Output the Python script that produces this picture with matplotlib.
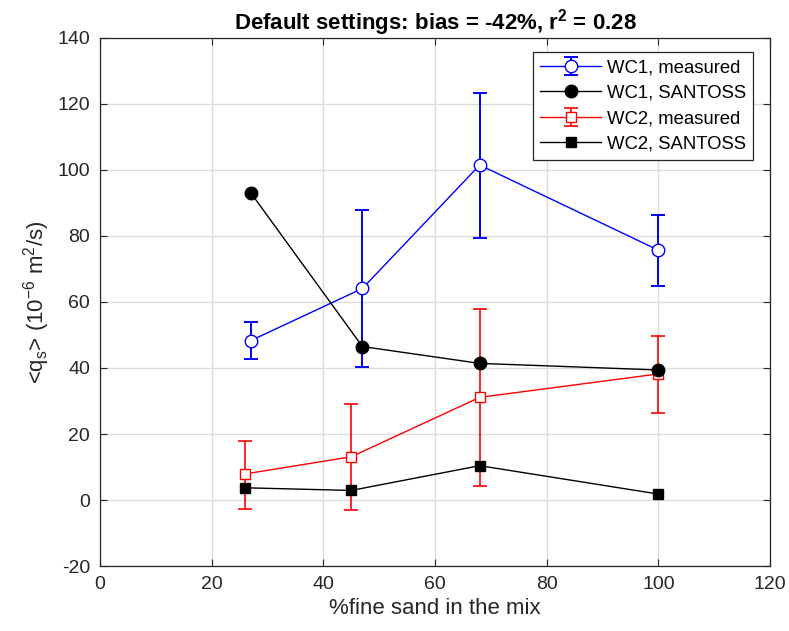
import matplotlib
matplotlib.use("Agg")
import matplotlib.pyplot as plt
import numpy as np

plt.rcParams['font.family'] = ['Liberation Sans', 'DejaVu Sans']
plt.rcParams['mathtext.fontset'] = 'custom'
plt.rcParams['mathtext.rm'] = 'Liberation Sans'
plt.rcParams['mathtext.it'] = 'Liberation Sans:italic'
plt.rcParams['mathtext.bf'] = 'Liberation Sans:bold'
plt.rcParams['axes.unicode_minus'] = False

# WC1 measured
wc1_x = [27.0, 47.0, 68.0, 100.0]
wc1_meas = [48.3, 64.1, 101.5, 75.7]
wc1_lo = [42.7, 40.2, 79.3, 64.9]
wc1_hi = [53.8, 87.8, 123.4, 86.4]
wc1_santoss = [93.1, 46.5, 41.4, 39.4]

# WC2 measured
wc2_x = [26.0, 45.0, 68.0, 100.0]
wc2_meas = [7.9, 13.1, 31.1, 38.2]
wc2_lo = [-2.8, -3.1, 4.2, 26.5]
wc2_hi = [17.9, 29.2, 57.9, 49.8]
wc2_santoss = [3.7, 2.9, 10.4, 1.8]

xticks = [0, 20, 40, 60, 80, 100, 120]
yticks = [-20, 0, 20, 40, 60, 80, 100, 120, 140]

fig = plt.figure(figsize=(7.89, 6.31), dpi=100)
ax = fig.add_axes([0.1267, 0.103, 0.976 - 0.1267, 0.9398 - 0.103])

blue = '#0000ff'
red = '#ff0000'

m1 = np.array(wc1_meas)
h1 = ax.errorbar(wc1_x, wc1_meas, yerr=[m1 - np.array(wc1_lo), np.array(wc1_hi) - m1],
                 color=blue, marker='o', markersize=9, markerfacecolor='white',
                 markeredgecolor=blue, linewidth=1.0, elinewidth=1.4, capsize=5,
                 capthick=1.4, label='WC1, measured', zorder=3)
h2, = ax.plot(wc1_x, wc1_santoss, color='black', marker='o', markersize=9,
              linewidth=1.0, label='WC1, SANTOSS', zorder=4)
m2 = np.array(wc2_meas)
h3 = ax.errorbar(wc2_x, wc2_meas, yerr=[m2 - np.array(wc2_lo), np.array(wc2_hi) - m2],
                 color=red, marker='s', markersize=7, markerfacecolor='white',
                 markeredgecolor=red, linewidth=1.0, elinewidth=1.2, capsize=5,
                 capthick=1.2, label='WC2, measured', zorder=3)
h4, = ax.plot(wc2_x, wc2_santoss, color='black', marker='s', markersize=7,
              linewidth=1.0, label='WC2, SANTOSS', zorder=4)

ax.set_xlim(0, 120)
ax.set_ylim(-20, 140)
ax.set_xticks(xticks)
ax.set_yticks(yticks)
ax.grid(True, color='#dcdcdc', linewidth=1.0)
ax.set_axisbelow(True)
ax.tick_params(labelsize=14, direction='in', length=5, top=True, right=True,
               colors='#262626', pad=7)
for s in ax.spines.values():
    s.set_color('#262626')
    s.set_linewidth(0.9)

ax.set_xlabel('%fine sand in the mix', fontsize=16, color='#262626', labelpad=4)
ax.set_ylabel(r'<q$_\mathrm{s}$> (10$^{-6}$ m$^2$/s)', fontsize=16, color='#262626')
ax.set_title(r'Default settings: bias = -42%, r$^\mathbf{2}$ = 0.28', fontsize=16,
             fontweight='bold', pad=6)

leg = ax.legend([h1, h2, h3, h4],
                ['WC1, measured', 'WC1, SANTOSS', 'WC2, measured', 'WC2, SANTOSS'],
                loc='upper right', fontsize=13.3, fancybox=False, framealpha=1,
                edgecolor='#262626', borderpad=0.4, labelspacing=0.45,
                handlelength=3.3, handletextpad=0.3, borderaxespad=0,
                bbox_to_anchor=(0.975, 0.973))
leg.get_frame().set_linewidth(0.9)

fig.savefig('out.png', dpi=100)
